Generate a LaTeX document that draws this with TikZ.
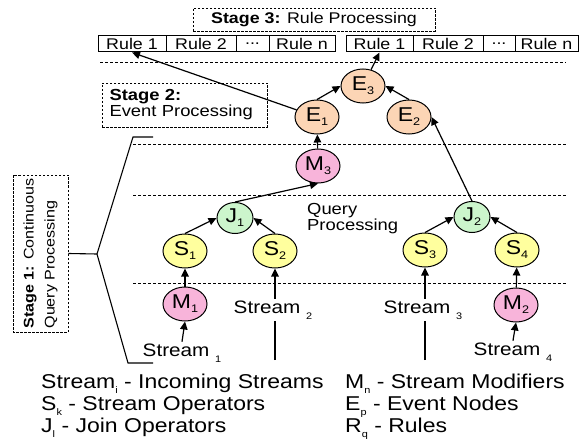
\documentclass[tikz,border=0pt]{standalone}
\usepackage{fontspec}
\setmainfont{Liberation Sans}[FakeStretch=1.15]
\usetikzlibrary{arrows.meta,shapes.geometric}

\definecolor{evfill}{HTML}{FCD5B5}
\definecolor{modfill}{HTML}{F8B4DA}
\definecolor{joinfill}{HTML}{CCF5CC}
\definecolor{strfill}{HTML}{FFFF9E}

\newcommand\fsz[1]{\fontsize{#1}{#1}\selectfont}
% lowered subscripts for node letters, stream labels and the key
\newcommand\nsub[1]{\raisebox{-4pt}{\fsz{11}#1}}
\newcommand\ssub[1]{\raisebox{-6pt}{\fsz{9.5}#1}}
\newcommand\lsub[1]{\raisebox{-5.5pt}{\fsz{9.5}#1}}

\tikzset{
  sepline/.style={line width=0.9pt, dash pattern=on 3pt off 2pt},
  stagebox/.style={draw, line width=0.9pt, dash pattern=on 2.5pt off 1.5pt, inner sep=0pt},
  rulecell/.style={draw, line width=1pt, minimum height=16pt, inner sep=0pt, font=\fsz{15.5}},
  opnode/.style={ellipse, draw, line width=1pt, inner sep=0pt,
                 minimum width=44pt, minimum height=34pt, font=\fsz{20}},
  evnode/.style={opnode, fill=evfill},
  modnode/.style={opnode, fill=modfill},
  joinnode/.style={opnode, fill=joinfill, minimum width=36pt, minimum height=31pt},
  strnode/.style={opnode, fill=strfill},
  arr/.style={line width=1.2pt, -{Triangle[length=8pt,width=7.5pt]}},
  link/.style={line width=1.1pt},
  streamlbl/.style={anchor=base west, inner sep=1.5pt, font=\fsz{18}},
  keyline/.style={anchor=base west, inner sep=0pt, font=\fsz{20}}
}

\begin{document}
\begin{tikzpicture}[x=1pt,y=-1pt]
\useasboundingbox (0,0) rectangle (581,441);

% layer separators
\draw[sepline] (100,62) -- (566,62);
\draw[sepline] (133,144) -- (566,144);
\draw[sepline] (133,195) -- (566,195);
\draw[sepline] (133,283) -- (566,283);

% stage 3: rule processing
\node[stagebox, minimum width=242pt, minimum height=23pt, font=\fsz{15.5}] (st3) at (314,19.5)
  {\textbf{Stage 3:} Rule Processing};

\node[rulecell, minimum width=68pt] (lr1) at (132,44) {Rule 1};
\node[rulecell, minimum width=70pt] (lr2) at (201,44) {Rule 2};
\node[rulecell, minimum width=33pt] (lr3) at (252.5,44) {...};
\node[rulecell, minimum width=66pt] (lr4) at (302,44) {Rule n};

\node[rulecell, minimum width=67pt] (rr1) at (379.5,44) {Rule 1};
\node[rulecell, minimum width=70pt] (rr2) at (448,44) {Rule 2};
\node[rulecell, minimum width=32pt] (rr3) at (499,44) {...};
\node[rulecell, minimum width=63pt] (rr4) at (546.5,44) {Rule n};

% stage 2: event processing
\node[stagebox, minimum width=165pt, minimum height=44pt, align=left, text width=150pt,
      font=\fontsize{16}{16}\selectfont] (st2) at (184.5,105)
  {\textbf{Stage 2:}\\Event Processing};

% stage 1: continuous query processing
\node[stagebox, rotate=90, minimum width=157pt, minimum height=55pt, align=left,
      font=\fontsize{14}{21}\selectfont] (st1) at (40.5,253.5)
  {\textbf{Stage 1:} Continuous\\Query Processing};

\node[anchor=north west, inner sep=0pt, align=left, font=\fontsize{16}{14.5}\selectfont] (qp) at (307,203)
  {Query\\Processing};

% brace grouping the query layers
\coordinate (bq) at (97,254);
\draw[link] (153,137) -- (133,137) -- (bq) -- (128,363) -- (153,363);
\draw[link] (st1.south) -- (bq);

% operator graph
\node[evnode] (E3) at (363,86) {E\nsub{3}};
\node[evnode] (E1) at (317,117) {E\nsub{1}};
\node[evnode] (E2) at (409,117) {E\nsub{2}};
\node[modnode] (M3) at (318,166) {M\nsub{3}};
\node[joinnode] (J1) at (235,218) {J\nsub{1}};
\node[joinnode] (J2) at (472,217) {J\nsub{2}};
\node[strnode] (S1) at (185,251) {S\nsub{1}};
\node[strnode] (S2) at (275,251) {S\nsub{2}};
\node[strnode] (S3) at (425,250) {S\nsub{3}};
\node[strnode] (S4) at (517,250) {S\nsub{4}};
\node[modnode] (M1) at (185,304) {M\nsub{1}};
\node[modnode] (M2) at (516,305) {M\nsub{2}};

% incoming streams
\coordinate (s2foot) at (275,360);
\coordinate (s3foot) at (425,360);
\draw[arr] (s2foot) -- (S2.south);
\draw[arr] (s3foot) -- (S3.south);

\node[streamlbl] (in1) at (141,356) {Stream \ssub{1}};
\node[streamlbl, fill=white] (in2) at (232,313) {Stream \ssub{2}};
\node[streamlbl, fill=white] (in3) at (382,313) {Stream \ssub{3}};
\node[streamlbl] (in4) at (472,355) {Stream \ssub{4}};

\draw[arr] (in1.north) -- (M1.south);
\draw[arr] (in4.north) -- (M2.south);
\draw[arr] (M1) -- (S1);
\draw[arr] (M2) -- (S4);

\draw[arr] (S1.north) -- (J1.west);
\draw[arr] (S2.north) -- (J1.east);
\draw[arr] (S3.north) -- (J2.west);
\draw[arr] (S4.north) -- (J2.east);

\draw[arr] (J1.north) -- (M3.south);
\draw[arr] (J2.north) -- (E2.east);
\draw[arr] (M3) -- (E1);

\draw[arr] (E1.north) -- (E3.west);
\draw[arr] (E2.north) -- (E3.east);
\draw[arr] (E1) -- (lr1.south);
\draw[arr] (E3) -- (rr1.south);

% key
\node[keyline] (k1) at (41,388) {Stream\lsub{i} - Incoming Streams};
\node[keyline] (k2) at (41,410) {S\lsub{k} - Stream Operators};
\node[keyline] (k3) at (41,432) {J\lsub{l} - Join Operators};
\node[keyline] (k4) at (345,388) {M\lsub{n} - Stream Modifiers};
\node[keyline] (k5) at (345,410) {E\lsub{p} - Event Nodes};
\node[keyline] (k6) at (345,432) {R\lsub{q} - Rules};
\end{tikzpicture}
\end{document}
